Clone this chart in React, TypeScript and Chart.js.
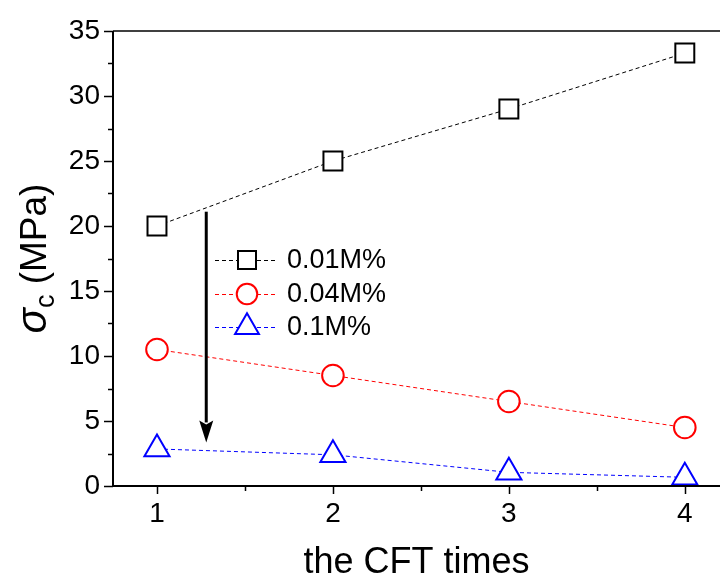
import React, { useEffect, useRef } from 'react';
import { Chart, registerables } from 'chart.js';

Chart.register(...registerables);

const cftTimes = [1, 2, 3, 4];
const series001 = [20.0, 25.0, 29.0, 33.3];
const series004 = [10.5, 8.5, 6.5, 4.5];
const series01 = [2.85, 2.4, 1.05, 0.67];
const seriesLabels = ['0.01M%', '0.04M%', '0.1M%'];
const seriesColors = ['#000000', '#ff0000', '#0000ff'];
const seriesStyles = ['rect', 'circle', 'triangle'];
const xTicks = [1, 1.5, 2, 2.5, 3, 3.5, 4];
const yTicks = [0, 2.5, 5, 7.5, 10, 12.5, 15, 17.5, 20, 22.5, 25, 27.5, 30, 32.5, 35];
const arrowX = [1.28];
const arrowY = [21.1, 3.35];
const xTitle = 'the CFT times';

const FONT = '"Liberation Sans", Arial, Helvetica, sans-serif';
const RADII = [13.4, 10.8, 14.5];

function drawMarker(ctx: CanvasRenderingContext2D, style: string, x: number, y: number, r: number, color: string) {
  ctx.save();
  ctx.strokeStyle = color;
  ctx.fillStyle = '#ffffff';
  ctx.lineWidth = 2;
  ctx.setLineDash([]);
  ctx.beginPath();
  if (style === 'rect') {
    const s = r * Math.SQRT1_2;
    ctx.rect(x - s, y - s, 2 * s, 2 * s);
  } else if (style === 'circle') {
    ctx.arc(x, y, r, 0, Math.PI * 2);
  } else {
    let rad = 0;
    ctx.moveTo(x + Math.sin(rad) * r, y - Math.cos(rad) * r);
    rad += (2 * Math.PI) / 3;
    ctx.lineTo(x + Math.sin(rad) * r, y - Math.cos(rad) * r);
    rad += (2 * Math.PI) / 3;
    ctx.lineTo(x + Math.sin(rad) * r, y - Math.cos(rad) * r);
    ctx.closePath();
  }
  ctx.fill();
  ctx.stroke();
  ctx.restore();
}

const decorPlugin = {
  id: 'decor',
  afterDraw(chart: any) {
    const ctx: CanvasRenderingContext2D = chart.ctx;
    const xs = chart.scales.x;
    const ys = chart.scales.y;
    const area = chart.chartArea;
    ctx.save();
    ctx.strokeStyle = '#000';
    ctx.setLineDash([]);
    // frame lines
    ctx.lineWidth = 2;
    ctx.beginPath();
    ctx.moveTo(area.left, area.top);
    ctx.lineTo(area.left, area.bottom);
    ctx.moveTo(area.left - 1, area.bottom);
    ctx.lineTo(area.right, area.bottom);
    ctx.stroke();
    ctx.lineWidth = 1.5;
    ctx.beginPath();
    ctx.moveTo(area.left, area.top);
    ctx.lineTo(area.right, area.top);
    ctx.stroke();
    // ticks
    ctx.lineWidth = 1.5;
    ctx.beginPath();
    yTicks.forEach((v) => {
      const py = Math.round(ys.getPixelForValue(v)) + 0.5;
      const len = v % 5 === 0 ? 9 : 5;
      ctx.moveTo(area.left - len, py);
      ctx.lineTo(area.left, py);
    });
    xTicks.forEach((v) => {
      const px = Math.round(xs.getPixelForValue(v)) + 0.5;
      const len = Number.isInteger(v) ? 8 : 5;
      ctx.moveTo(px, area.bottom);
      ctx.lineTo(px, area.bottom + len);
    });
    ctx.stroke();

    // arrow
    const ax = xs.getPixelForValue(arrowX[0]);
    const ay0 = ys.getPixelForValue(arrowY[0]);
    const ay1 = ys.getPixelForValue(arrowY[1]);
    const headLen = 22;
    const headHalf = 7;
    ctx.lineWidth = 3;
    ctx.beginPath();
    ctx.moveTo(ax, ay0);
    ctx.lineTo(ax, ay1 - headLen + 2);
    ctx.stroke();
    ctx.fillStyle = '#000';
    ctx.beginPath();
    ctx.moveTo(ax - headHalf, ay1 - headLen);
    ctx.lineTo(ax, ay1 - headLen + 4);
    ctx.lineTo(ax + headHalf, ay1 - headLen);
    ctx.lineTo(ax, ay1);
    ctx.closePath();
    ctx.fill();

    // legend
    const rows = [260, 294, 327];
    const lx0 = 215;
    const lx1 = 278;
    const mx = 247;
    ctx.font = `27px ${FONT}`;
    ctx.textBaseline = 'middle';
    ctx.textAlign = 'left';
    seriesLabels.forEach((lab, i) => {
      const ry = rows[i];
      ctx.save();
      ctx.strokeStyle = seriesColors[i];
      ctx.lineWidth = 1;
      ctx.setLineDash([4, 3]);
      ctx.beginPath();
      ctx.moveTo(lx0, ry + 0.5);
      ctx.lineTo(lx1, ry + 0.5);
      ctx.stroke();
      ctx.restore();
      drawMarker(ctx, seriesStyles[i], mx, ry, RADII[i] * 0.95, seriesColors[i]);
      ctx.fillStyle = '#000';
      ctx.fillText(lab, 287, ry + 1);
    });

    // x title
    ctx.fillStyle = '#000';
    ctx.font = `36px ${FONT}`;
    ctx.textAlign = 'center';
    ctx.textBaseline = 'alphabetic';
    ctx.fillText(xTitle, (area.left + area.right) / 2, 573);

    // y title
    const cy = (area.top + area.bottom) / 2;
    ctx.translate(46, cy);
    ctx.rotate(-Math.PI / 2);
    const big = `37px ${FONT}`;
    const sigFont = `italic 42px ${FONT}`;
    const subFont = `27px ${FONT}`;
    ctx.font = sigFont;
    const w1 = ctx.measureText('σ').width;
    ctx.font = subFont;
    const w2 = ctx.measureText('c').width;
    ctx.font = big;
    const w3 = ctx.measureText(' (MPa)').width;
    const total = w1 + w2 + w3;
    let x = -total / 2;
    ctx.textAlign = 'left';
    ctx.font = sigFont;
    ctx.fillText('σ', x, 0);
    x += w1;
    ctx.font = subFont;
    ctx.fillText('c', x, 8);
    x += w2;
    ctx.font = big;
    ctx.fillText(' (MPa)', x, 0);
    ctx.restore();
  },
};

function makeDataset(label: string, values: number[], i: number) {
  return {
    label,
    data: cftTimes.map((t, k) => ({ x: t, y: values[k] })),
    borderColor: seriesColors[i],
    borderWidth: 1,
    borderDash: [4, 3],
    pointStyle: seriesStyles[i],
    pointRadius: RADII[i],
    pointBorderWidth: 2,
    pointBorderColor: seriesColors[i],
    pointBackgroundColor: '#ffffff',
    fill: false,
    tension: 0,
    clip: false,
  };
}

export default function App() {
  const ref = useRef<HTMLCanvasElement | null>(null);
  useEffect(() => {
    if (!ref.current) return;
    const chart = new Chart(ref.current, {
      type: 'line',
      data: {
        datasets: [
          makeDataset(seriesLabels[0], series001, 0),
          makeDataset(seriesLabels[1], series004, 1),
          makeDataset(seriesLabels[2], series01, 2),
        ] as any,
      },
      options: {
        animation: false,
        responsive: false,
        events: [],
        layout: { autoPadding: false, padding: { top: 31, left: 0, right: 0, bottom: 0 } },
        plugins: { legend: { display: false }, tooltip: { enabled: false }, title: { display: false } },
        scales: {
          x: {
            type: 'linear',
            min: 0.75,
            max: 4.2,
            afterBuildTicks: (s: any) => {
              s.ticks = xTicks.map((v) => ({ value: v }));
            },
            afterFit: (s: any) => {
              s.height = 95;
            },
            ticks: {
              autoSkip: false,
              maxRotation: 0,
              padding: 2,
              color: '#000',
              font: { size: 28, family: FONT },
              callback: (v: any) => (Number.isInteger(v) ? String(v) : ''),
            },
            grid: { display: true, drawOnChartArea: false, tickLength: 9, tickColor: 'rgba(0,0,0,0)' },
            border: { display: false },
          },
          y: {
            type: 'linear',
            min: 0,
            max: 35,
            afterBuildTicks: (s: any) => {
              s.ticks = yTicks.map((v) => ({ value: v }));
            },
            afterFit: (s: any) => {
              s.width = 113;
            },
            ticks: {
              autoSkip: false,
              padding: 4,
              color: '#000',
              font: { size: 28, family: FONT },
              callback: (v: any) => (v % 5 === 0 ? String(v) : ''),
            },
            grid: { display: true, drawOnChartArea: false, tickLength: 9, tickColor: 'rgba(0,0,0,0)' },
            border: { display: false },
          },
        },
      } as any,
      plugins: [decorPlugin],
    });
    return () => chart.destroy();
  }, []);
  return (
    <div style={{ position: 'absolute', left: 0, top: 0, width: 720, height: 581, background: '#fff' }}>
      <canvas ref={ref} width={720} height={581} style={{ display: 'block' }} />
    </div>
  );
}
